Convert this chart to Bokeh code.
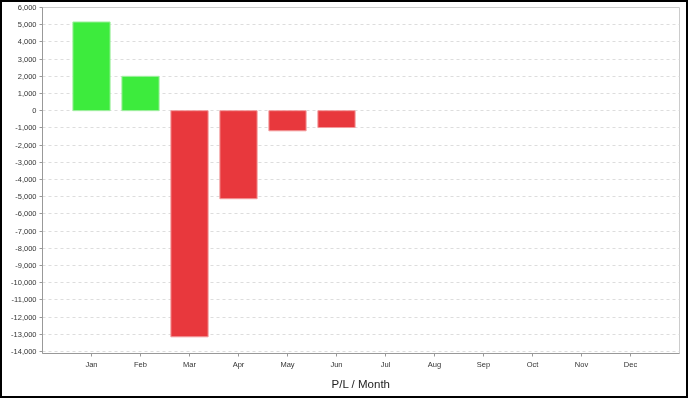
from bokeh.plotting import figure
from bokeh.models import ColumnDataSource, FixedTicker, NumeralTickFormatter, Range1d
from bokeh.embed import file_html
from bokeh.resources import INLINE

months = ["Jan", "Feb", "Mar", "Apr", "May", "Jun", "Jul", "Aug", "Sep", "Oct", "Nov", "Dec"]
pl_values = [5160, 2000, -13150, -5120, -1170, -980]
y_ticks = list(range(-14000, 6001, 1000))

GREEN = "#3deb3d"
RED = "#e8383d"

xs = [i + 1 for i in range(len(pl_values))]
colors = [GREEN if v >= 0 else RED for v in pl_values]
lines = ["#a6f0a6" if v >= 0 else "#f29a9c" for v in pl_values]
src = ColumnDataSource(dict(x=xs, top=pl_values, color=colors, line=lines))

p = figure(width=684, height=394, output_backend="svg", toolbar_location=None,
           x_range=Range1d(0, len(months) + 1), y_range=Range1d(-14120, 6000),
           min_border_left=40, min_border_right=7, min_border_top=5, min_border_bottom=43)
p.styles = {"position": "fixed", "left": "2px", "top": "2px",
            "outline": "2px solid black"}

p.vbar(x="x", top="top", bottom=0, width=0.76, source=src,
       fill_color="color", line_color="line", line_width=1)

font = "Liberation Sans"
p.xaxis.ticker = FixedTicker(ticks=list(range(1, len(months) + 1)))
p.xaxis.major_label_overrides = {i + 1: m for i, m in enumerate(months)}
p.yaxis.ticker = FixedTicker(ticks=y_ticks)
p.yaxis.formatter = NumeralTickFormatter(format="0,0")

for ax in (p.xaxis[0], p.yaxis[0]):
    ax.axis_line_color = "#999999"
    ax.major_tick_line_color = "#999999"
    ax.major_tick_in = 0
    ax.major_tick_out = 3
    ax.minor_tick_line_color = None
    ax.major_label_text_font = font
    ax.major_label_text_font_size = "7.5px"
    ax.major_label_text_color = "#333333"
    ax.major_label_standoff = 3

p.xaxis.axis_label = "P/L / Month"
p.xaxis.axis_label_text_font = font
p.xaxis.axis_label_text_font_size = "11.5px"
p.xaxis.axis_label_text_font_style = "normal"
p.xaxis.axis_label_text_color = "#222222"
p.xaxis.axis_label_standoff = 6

p.xgrid.grid_line_color = None
p.ygrid.ticker = FixedTicker(ticks=y_ticks)
p.ygrid.grid_line_color = "#dddddd"
p.ygrid.grid_line_dash = "3 3"
p.outline_line_color = "#cccccc"
p.background_fill_color = "white"
p.border_fill_color = "white"

open("out.html", "w").write(file_html(p, INLINE))
